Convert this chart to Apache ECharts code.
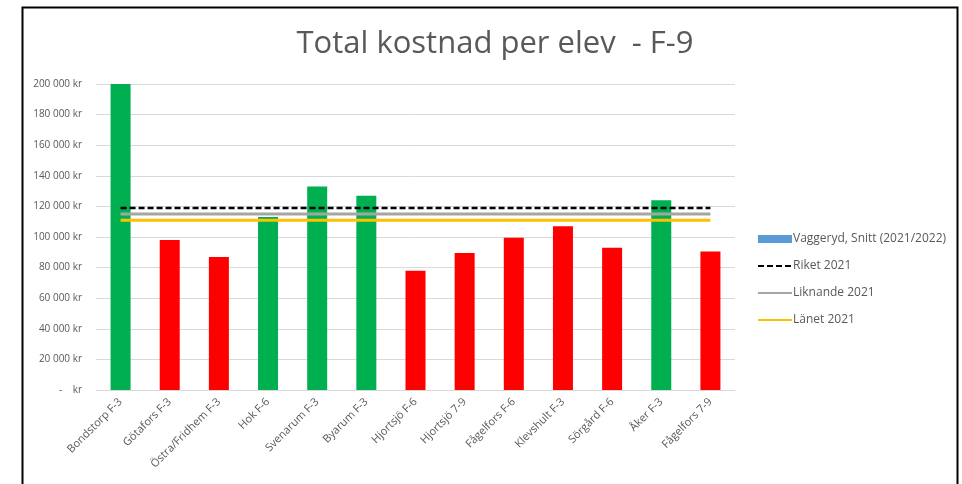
<!DOCTYPE html>
<html>
<head>
<meta charset="utf-8">
<script src="https://cdn.jsdelivr.net/npm/echarts@6/dist/echarts.min.js"></script>
<style>
  html, body { margin: 0; padding: 0; background: #fff; }
  #chart { width: 962px; height: 484px; }
</style>
</head>
<body>
<div id="chart"></div>
<script>
// skolor (kategorier)
var categories = ['Bondstorp F-3', 'Götafors F-3', 'Östra/Fridhem F-3', 'Hok F-6', 'Svenarum F-3',
  'Byarum F-3', 'Hjortsjö F-6', 'Hjortsjö 7-9', 'Fågelfors F-6', 'Klevshult F-3',
  'Sörgård F-6', 'Åker F-3', 'Fågelfors 7-9'];
// kostnad per elev, Vaggeryd snitt (2021/2022)
var vaggeryd = [200000, 98000, 87000, 113000, 133000, 127000, 78000, 89500, 99500, 107000, 93000, 124000, 90500];
// jämförelsevärden
var riket = 119000;
var liknande = 115000;
var lanet = 111000;
var yTicks = [0, 20000, 40000, 60000, 80000, 100000, 120000, 140000, 160000, 180000, 200000];

(function() {
    var myChart = echarts.init(document.getElementById('chart'));
    var font = '"Open Sans", "Liberation Sans", sans-serif';

    function kr(v) {
        if (v === 0) return '-    kr';
        return String(v).replace(/\B(?=(\d{3})+(?!\d))/g, ' ') + ' kr';
    }

    var option = {
        animation: false,
        textStyle: { fontFamily: font },
        title: {
            text: 'Total kostnad per elev  - F-9',
            left: 490,
            textAlign: 'center',
            top: 24,
            textStyle: { color: '#595959', fontSize: 31, fontWeight: 'normal', fontFamily: font }
        },
        graphic: [{
            type: 'rect',
            left: 20, top: 5,
            shape: { width: 935, height: 520 },
            style: { fill: 'none', stroke: '#000', lineWidth: 2 }
        }],
        legend: {
            orient: 'vertical',
            left: 752,
            top: 228,
            itemWidth: 34,
            itemHeight: 8,
            itemGap: 15,
            textStyle: { color: '#595959', fontSize: 12, padding: [0, 0, 0, -4] },
            data: [
                { name: 'Vaggeryd, Snitt (2021/2022)', icon: 'rect' },
                { name: 'Riket 2021', itemStyle: { opacity: 0 } },
                { name: 'Liknande 2021', itemStyle: { opacity: 0 } },
                { name: 'Länet 2021', itemStyle: { opacity: 0 } }
            ]
        },
        grid: { left: 96, right: 227, top: 84, bottom: 94 },
        xAxis: {
            type: 'category',
            data: categories,
            axisTick: { show: false },
            axisLine: { lineStyle: { color: '#d9d9d9' } },
            axisLabel: { color: '#595959', fontSize: 11, rotate: 45, interval: 0, margin: 10 }
        },
        yAxis: {
            type: 'value',
            min: 0,
            max: 200000,
            interval: 20000,
            axisLine: { show: false },
            axisTick: { show: false },
            splitLine: { lineStyle: { color: '#d9d9d9' } },
            axisLabel: {
                color: '#595959', fontSize: 10, margin: 14,
                formatter: function(v) { return yTicks.indexOf(v) >= 0 ? kr(v) : ''; }
            }
        },
        series: [
            {
                name: 'Vaggeryd, Snitt (2021/2022)',
                type: 'bar',
                barWidth: 20,
                itemStyle: { color: '#5B9BD5' },
                data: vaggeryd.map(function(v) {
                    return { value: v, itemStyle: { color: v > lanet ? '#00B050' : '#FF0000' } };
                }),
                z: 2
            },
            {
                name: 'Riket 2021',
                type: 'line',
                symbol: 'none',
                lineStyle: { color: '#000', width: 2.5, type: [6, 3] },
                itemStyle: { color: '#000' },
                data: categories.map(function() { return riket; }),
                z: 5
            },
            {
                name: 'Liknande 2021',
                type: 'line',
                symbol: 'none',
                lineStyle: { color: '#A5A5A5', width: 3 },
                itemStyle: { color: '#A5A5A5' },
                data: categories.map(function() { return liknande; }),
                z: 4
            },
            {
                name: 'Länet 2021',
                type: 'line',
                symbol: 'none',
                lineStyle: { color: '#FFC000', width: 3 },
                itemStyle: { color: '#FFC000' },
                data: categories.map(function() { return lanet; }),
                z: 4
            }
        ]
    };
    myChart.setOption(option);
})();
</script>
</body>
</html>
